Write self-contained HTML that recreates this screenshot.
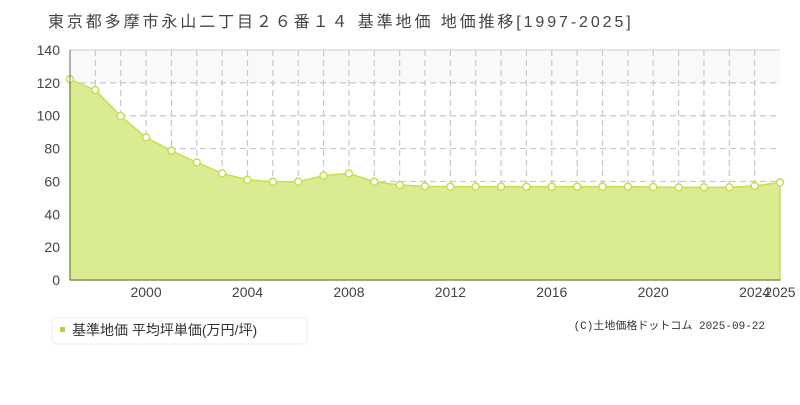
<!DOCTYPE html>
<html><head><meta charset="utf-8"><style>
body{margin:0;background:#fff;font-family:"Liberation Sans","Noto Sans CJK JP",sans-serif}
</style></head><body>
<svg width="800" height="400" xmlns="http://www.w3.org/2000/svg" font-family="Liberation Sans, Noto Sans CJK JP, sans-serif">
<text x="48" y="27" font-size="16" fill="#444" letter-spacing="2.9">東京都多摩市永山二丁目２６番１４ 基準地価 地価推移[1997-2025]</text>
<rect x="70" y="50" width="710" height="33" fill="#faf9fa"/>
<line x1="70" y1="50" x2="780" y2="50" stroke="#ddd" stroke-width="1.5"/>
<g id="grid" stroke="#c8c8c8" stroke-dasharray="6,4" stroke-width="1.2"></g>
<path id="area" fill="#d9ec92" stroke="#c5e04a" stroke-width="1.5"/>
<g id="pts" fill="#fff" stroke="#c5e04a" stroke-width="1.5"></g>
<line x1="70" y1="50" x2="70" y2="280" stroke="#666"/>
<line x1="70" y1="280" x2="780" y2="280" stroke="#666"/>
<g id="ylab" font-size="14" fill="#444" text-anchor="end"></g>
<g id="xlab" font-size="14" fill="#444" text-anchor="middle"></g>
<rect x="52" y="318" width="255" height="26" rx="4" fill="#fff" stroke="#eee"/>
<rect x="60" y="327" width="5" height="5" fill="#b5d334"/>
<text x="72" y="335" font-size="14" fill="#333">基準地価 平均坪単価(万円/坪)</text>
<text x="765" y="329" font-size="11" fill="#333" text-anchor="end" font-family="Liberation Mono, Noto Sans CJK JP, monospace">(C)土地価格ドットコム 2025-09-22</text>
</svg>
<script>
var d=[122.2,115.6,99.8,86.8,78.7,71.6,64.9,61,59.8,59.8,63.5,64.9,59.8,57.8,57,56.8,56.8,56.8,56.8,56.8,56.8,56.8,56.8,56.6,56.4,56.4,56.4,57.2,59.4];
var ns="http://www.w3.org/2000/svg";
function X(i){return 70+i*710/28}function Y(v){return 280-v*230/140}
function el(p,t,a,txt){var e=document.createElementNS(ns,t);for(var k in a)e.setAttribute(k,a[k]);if(txt)e.textContent=txt;document.getElementById(p).appendChild(e);}
for(var i=1;i<28;i++)el("grid","line",{x1:X(i),y1:50,x2:X(i),y2:280});
for(var v=20;v<=120;v+=20)el("grid","line",{x1:70,y1:Y(v),x2:780,y2:Y(v)});
for(var v=0;v<=140;v+=20)el("ylab","text",{x:60,y:Y(v)+5},""+v);
for(var y=2000;y<=2024;y+=4)el("xlab","text",{x:X(y-1997),y:297},""+y);
el("xlab","text",{x:X(28),y:297},"2025");
var p="M70,280";d.forEach(function(v,i){p+="L"+X(i)+","+Y(v)});p+="L780,280Z";
document.getElementById("area").setAttribute("d",p);
d.forEach(function(v,i){el("pts","circle",{cx:X(i),cy:Y(v),r:3.5})});
</script>
</body></html>
